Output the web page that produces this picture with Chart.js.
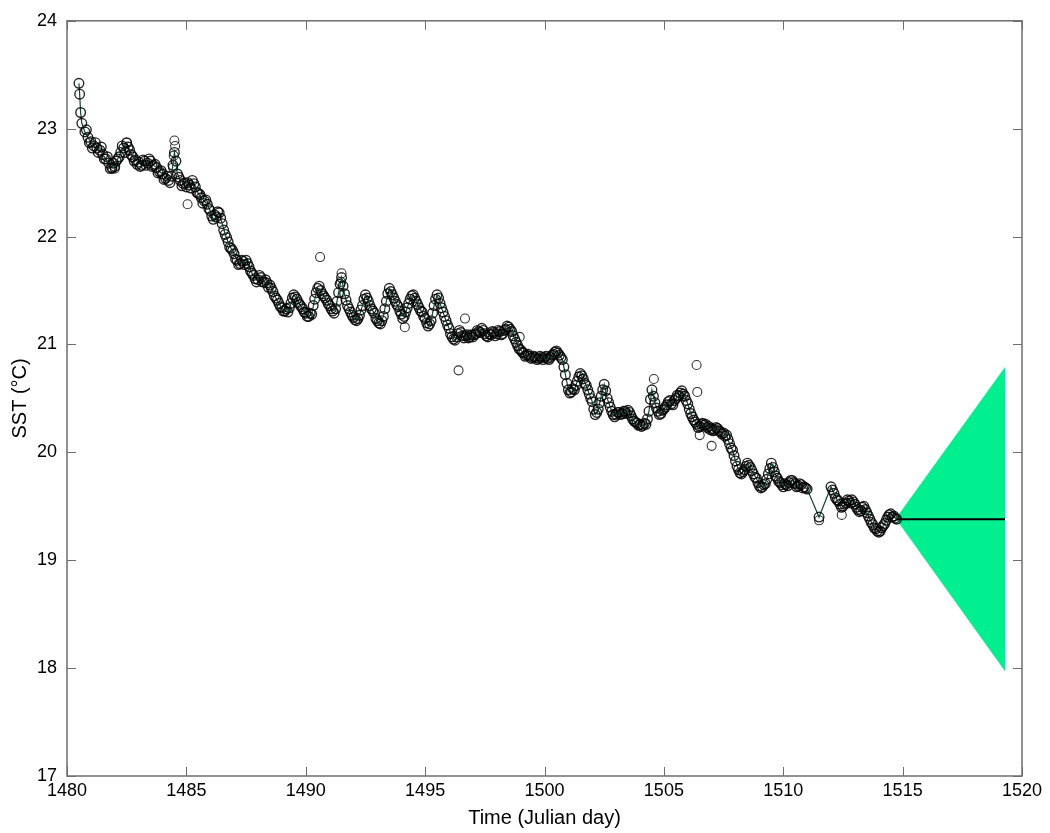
<!DOCTYPE html>
<html>
<head>
<meta charset="utf-8">
<script src="https://cdn.jsdelivr.net/npm/chart.js@4"></script>
<style>
html,body{margin:0;padding:0;background:#fff;}
#wrap{width:1050px;height:833px;position:relative;}
</style>
</head>
<body>
<div id="wrap"><canvas id="c" width="1050" height="833"></canvas></div>
<script>
// ---- Observed SST (Julian day, °C), main samples ----
const obsTime = [
1480.50,1480.53,1480.57,1480.62,1480.75,1480.875,
1481.0,1481.125,1481.25,1481.375,1481.5,1481.625,1481.75,1481.875,
1482.0,1482.125,1482.25,1482.375,1482.5,1482.625,1482.75,1482.875,
1483.0,1483.125,1483.25,1483.375,1483.5,1483.625,1483.75,1483.875,
1484.0,1484.125,1484.25,1484.375,1484.5,1484.625,1484.75,1484.875,
1485.0,1485.125,1485.25,1485.375,1485.5,1485.625,1485.75,1485.875,
1486.0,1486.125,1486.25,1486.375,1486.5,1486.625,1486.75,1486.875,
1487.0,1487.125,1487.25,1487.375,1487.5,1487.625,1487.75,1487.875,
1488.0,1488.125,1488.25,1488.375,1488.5,1488.625,1488.75,1488.875,
1489.0,1489.125,1489.25,1489.375,1489.5,1489.625,1489.75,1489.875,
1490.0,1490.125,1490.25,1490.375,1490.5,1490.625,1490.75,1490.875,
1491.0,1491.125,1491.25,1491.375,1491.5,1491.625,1491.75,1491.875,
1492.0,1492.125,1492.25,1492.375,1492.5,1492.625,1492.75,1492.875,
1493.0,1493.125,1493.25,1493.375,1493.5,1493.625,1493.75,1493.875,
1494.0,1494.125,1494.25,1494.375,1494.5,1494.625,1494.75,1494.875,
1495.0,1495.125,1495.25,1495.375,1495.5,1495.625,1495.75,1495.875,
1496.0,1496.125,1496.25,1496.375,1496.5,1496.625,1496.75,1496.875,
1497.0,1497.125,1497.25,1497.375,1497.5,1497.625,1497.75,1497.875,
1498.0,1498.125,1498.25,1498.375,1498.5,1498.625,1498.75,1498.875,
1499.0,1499.125,1499.25,1499.375,1499.5,1499.625,1499.75,1499.875,
1500.0,1500.125,1500.25,1500.375,1500.5,1500.625,1500.75,1500.875,
1501.0,1501.125,1501.25,1501.375,1501.5,1501.625,1501.75,1501.875,
1502.0,1502.125,1502.25,1502.375,1502.5,1502.625,1502.75,1502.875,
1503.0,1503.125,1503.25,1503.375,1503.5,1503.625,1503.75,1503.875,
1504.0,1504.125,1504.25,1504.375,1504.5,1504.625,1504.75,1504.875,
1505.0,1505.125,1505.25,1505.375,1505.5,1505.625,1505.75,1505.875,
1506.0,1506.125,1506.25,1506.375,1506.5,1506.625,1506.75,1506.875,
1507.0,1507.125,1507.25,1507.375,1507.5,1507.625,1507.75,1507.875,
1508.0,1508.125,1508.25,1508.375,1508.5,1508.625,1508.75,1508.875,
1509.0,1509.125,1509.25,1509.375,1509.5,1509.625,1509.75,1509.875,
1510.0,1510.125,1510.25,1510.375,1510.5,1510.625,1510.75,1510.875,
1511.0,1511.5,
1512.0,1512.125,1512.25,1512.375,1512.5,1512.625,1512.75,1512.875,
1513.0,1513.125,1513.25,1513.375,1513.5,1513.625,1513.75,1513.875,
1514.0,1514.125,1514.25,1514.375,1514.5,1514.625,1514.75
];
const obsSST = [
23.42,23.32,23.15,23.05,22.97,22.92,
22.88,22.84,22.82,22.80,22.76,22.72,22.68,22.64,
22.65,22.72,22.78,22.82,22.87,22.80,22.74,22.71,
22.69,22.66,22.70,22.68,22.70,22.66,22.64,22.60,
22.58,22.54,22.52,22.56,22.78,22.58,22.52,22.49,
22.46,22.48,22.52,22.46,22.40,22.36,22.33,22.30,
22.24,22.16,22.18,22.22,22.12,22.02,21.95,21.89,
21.84,21.78,21.75,21.77,21.78,21.72,21.66,21.61,
21.60,21.62,21.58,21.57,21.55,21.49,21.43,21.38,
21.34,21.31,21.30,21.38,21.46,21.42,21.37,21.33,
21.29,21.26,21.28,21.42,21.52,21.50,21.45,21.41,
21.36,21.31,21.33,21.48,21.62,21.47,21.36,21.30,
21.25,21.22,21.27,21.36,21.46,21.40,21.33,21.29,
21.22,21.19,21.26,21.40,21.52,21.46,21.40,21.35,
21.28,21.26,21.34,21.42,21.46,21.40,21.34,21.30,
21.24,21.17,21.22,21.36,21.46,21.38,21.30,21.22,
21.15,21.07,21.04,21.10,21.11,21.06,21.09,21.07,
21.07,21.10,21.12,21.15,21.10,21.07,21.09,21.11,
21.10,21.12,21.10,21.14,21.16,21.12,21.05,20.99,
20.95,20.92,20.90,20.89,20.88,20.88,20.87,20.88,
20.88,20.87,20.88,20.91,20.94,20.90,20.86,20.72,
20.58,20.56,20.58,20.66,20.73,20.68,20.62,20.54,
20.47,20.35,20.40,20.52,20.63,20.50,20.42,20.35,
20.35,20.37,20.36,20.38,20.39,20.34,20.29,20.27,
20.26,20.25,20.26,20.38,20.58,20.46,20.38,20.36,
20.40,20.44,20.48,20.44,20.50,20.52,20.57,20.52,
20.45,20.36,20.30,20.26,20.24,20.27,20.26,20.24,
20.22,20.21,20.22,20.19,20.18,20.16,20.08,20.02,
19.92,19.84,19.80,19.84,19.90,19.86,19.80,19.76,
19.69,19.68,19.71,19.80,19.90,19.82,19.76,19.72,
19.68,19.70,19.72,19.74,19.71,19.69,19.70,19.68,
19.66,19.40,
19.68,19.62,19.56,19.52,19.50,19.53,19.55,19.56,
19.52,19.47,19.46,19.50,19.44,19.38,19.33,19.29,
19.26,19.30,19.34,19.40,19.43,19.41,19.38
];
// ---- Observed SST, intermediate samples ----
const obsTime2 = [
1480.8125,1480.9375,
1481.0625,1481.1875,1481.3125,1481.4375,1481.5625,1481.6875,1481.8125,1481.9375,
1482.0625,1482.1875,1482.3125,1482.4375,1482.5625,1482.6875,1482.8125,1482.9375,
1483.0625,1483.1875,1483.3125,1483.4375,1483.5625,1483.6875,1483.8125,1483.9375,
1484.0625,1484.1875,1484.3125,1484.4375,1484.5625,1484.6875,1484.8125,1484.9375,
1485.0625,1485.1875,1485.3125,1485.4375,1485.5625,1485.6875,1485.8125,1485.9375,
1486.0625,1486.1875,1486.3125,1486.4375,1486.5625,1486.6875,1486.8125,1486.9375,
1487.0625,1487.1875,1487.3125,1487.4375,1487.5625,1487.6875,1487.8125,1487.9375,
1488.0625,1488.1875,1488.3125,1488.4375,1488.5625,1488.6875,1488.8125,1488.9375,
1489.0625,1489.1875,1489.3125,1489.4375,1489.5625,1489.6875,1489.8125,1489.9375,
1490.0625,1490.1875,1490.3125,1490.4375,1490.5625,1490.6875,1490.8125,1490.9375,
1491.0625,1491.1875,1491.3125,1491.4375,1491.5625,1491.6875,1491.8125,1491.9375,
1492.0625,1492.1875,1492.3125,1492.4375,1492.5625,1492.6875,1492.8125,1492.9375,
1493.0625,1493.1875,1493.3125,1493.4375,1493.5625,1493.6875,1493.8125,1493.9375,
1494.0625,1494.1875,1494.3125,1494.4375,1494.5625,1494.6875,1494.8125,1494.9375,
1495.0625,1495.1875,1495.3125,1495.4375,1495.5625,1495.6875,1495.8125,1495.9375,
1496.0625,1496.1875,1496.3125,1496.4375,1496.5625,1496.6875,1496.8125,1496.9375,
1497.0625,1497.1875,1497.3125,1497.4375,1497.5625,1497.6875,1497.8125,1497.9375,
1498.0625,1498.1875,1498.3125,1498.4375,1498.5625,1498.6875,1498.8125,1498.9375,
1499.0625,1499.1875,1499.3125,1499.4375,1499.5625,1499.6875,1499.8125,1499.9375,
1500.0625,1500.1875,1500.3125,1500.4375,1500.5625,1500.6875,1500.8125,1500.9375,
1501.0625,1501.1875,1501.3125,1501.4375,1501.5625,1501.6875,1501.8125,1501.9375,
1502.0625,1502.1875,1502.3125,1502.4375,1502.5625,1502.6875,1502.8125,1502.9375,
1503.0625,1503.1875,1503.3125,1503.4375,1503.5625,1503.6875,1503.8125,1503.9375,
1504.0625,1504.1875,1504.3125,1504.4375,1504.5625,1504.6875,1504.8125,1504.9375,
1505.0625,1505.1875,1505.3125,1505.4375,1505.5625,1505.6875,1505.8125,1505.9375,
1506.0625,1506.1875,1506.3125,1506.4375,1506.5625,1506.6875,1506.8125,1506.9375,
1507.0625,1507.1875,1507.3125,1507.4375,1507.5625,1507.6875,1507.8125,1507.9375,
1508.0625,1508.1875,1508.3125,1508.4375,1508.5625,1508.6875,1508.8125,1508.9375,
1509.0625,1509.1875,1509.3125,1509.4375,1509.5625,1509.6875,1509.8125,1509.9375,
1510.0625,1510.1875,1510.3125,1510.4375,1510.5625,1510.6875,1510.8125,1510.9375,
1512.0625,1512.1875,1512.3125,1512.4375,1512.5625,1512.6875,1512.8125,1512.9375,
1513.0625,1513.1875,1513.3125,1513.4375,1513.5625,1513.6875,1513.8125,1513.9375,
1514.0625,1514.1875,1514.3125,1514.4375,1514.5625,1514.6875
];
const obsSST2 = [
22.99,22.87,
22.82,22.87,22.78,22.83,22.72,22.74,22.63,22.68,
22.70,22.74,22.84,22.78,22.83,22.76,22.70,22.67,
22.65,22.71,22.66,22.72,22.65,22.67,22.59,22.61,
22.53,22.56,22.50,22.66,22.70,22.55,22.47,22.50,
22.50,22.45,22.49,22.41,22.39,22.31,22.34,22.26,
22.19,22.20,22.23,22.17,22.06,21.99,21.90,21.87,
21.79,21.74,21.78,21.74,21.75,21.68,21.64,21.58,
21.64,21.58,21.60,21.53,21.52,21.45,21.41,21.35,
21.31,21.33,21.34,21.43,21.44,21.39,21.35,21.30,
21.26,21.29,21.36,21.48,21.54,21.47,21.43,21.38,
21.33,21.29,21.40,21.56,21.54,21.41,21.33,21.27,
21.23,21.24,21.32,21.42,21.43,21.36,21.31,21.24,
21.20,21.22,21.33,21.47,21.49,21.43,21.37,21.31,
21.24,21.30,21.38,21.45,21.43,21.37,21.31,21.26,
21.20,21.19,21.29,21.42,21.43,21.34,21.26,21.18,
21.10,21.05,21.07,21.13,21.08,21.08,21.06,21.09,
21.09,21.13,21.11,21.13,21.08,21.10,21.12,21.08,
21.13,21.09,21.13,21.17,21.14,21.08,21.02,20.96,
20.93,20.89,20.91,20.87,20.89,20.86,20.89,20.86,
20.89,20.86,20.90,20.93,20.92,20.88,20.79,20.64,
20.55,20.59,20.62,20.70,20.71,20.64,20.58,20.50,
20.40,20.37,20.46,20.58,20.57,20.46,20.38,20.33,
20.37,20.35,20.38,20.36,20.37,20.31,20.28,20.25,
20.24,20.27,20.31,20.49,20.52,20.41,20.35,20.39,
20.42,20.47,20.45,20.48,20.53,20.55,20.54,20.48,
20.40,20.33,20.28,20.23,20.26,20.25,20.23,20.21,
20.20,20.23,20.20,20.17,20.15,20.12,20.04,19.97,
19.87,19.81,19.82,19.87,19.88,19.83,19.77,19.72,
19.67,19.70,19.75,19.85,19.86,19.78,19.73,19.70,
19.71,19.69,19.74,19.72,19.68,19.71,19.67,19.67,
19.65,19.58,19.55,19.49,19.52,19.56,19.53,19.54,
19.49,19.45,19.49,19.47,19.41,19.35,19.30,19.27,
19.27,19.32,19.37,19.42,19.40,19.39
];
// ---- Isolated observations (spikes / outliers) ----
const outTime = [1481.9,1482.0,1482.5,1484.44,1484.47,1484.50,1484.53,1485.05,1490.6,1491.47,1491.5,1494.15,1496.4,1496.67,1498.96,1504.58,1506.37,1506.4,1506.5,1507.0,1511.5,1512.45];
const outSST  = [22.63,22.63,22.87,22.64,22.75,22.89,22.84,22.30,21.81,21.58,21.66,21.16,20.76,21.24,21.07,20.68,20.81,20.56,20.16,20.06,19.37,19.42];
// ---- Forecast ----
const fcTime  = [1514.76, 1519.29];
const fcMean  = [19.38, 19.38];
const fcUpper = [19.40, 20.79];
const fcLower = [19.37, 17.97];
// ---- Axis ticks ----
const xTicks = [1480,1485,1490,1495,1500,1505,1510,1515,1520];
const yTicks = [17,18,19,20,21,22,23,24];

const pts = (xs, ys) => xs.map((x, i) => ({x: x, y: ys[i]}));
const FONT = "'Liberation Sans', Arial, sans-serif";
const CIRC = 'rgba(0,0,0,0.85)';

const boxTicks = {
  id: 'boxTicks',
  afterDraw(chart) {
    const {ctx, chartArea: a, scales: {x, y}} = chart;
    ctx.save();
    ctx.strokeStyle = '#6e6e6e';
    ctx.lineWidth = 1.5;
    ctx.strokeRect(a.left, a.top, a.right - a.left, a.bottom - a.top);
    const L = 9;
    ctx.beginPath();
    xTicks.forEach(v => {
      const px = Math.round(x.getPixelForValue(v)) + 0.5;
      ctx.moveTo(px, a.bottom); ctx.lineTo(px, a.bottom - L);
      ctx.moveTo(px, a.top); ctx.lineTo(px, a.top + L);
    });
    yTicks.forEach(v => {
      const py = Math.round(y.getPixelForValue(v)) + 0.5;
      ctx.moveTo(a.left, py); ctx.lineTo(a.left + L, py);
      ctx.moveTo(a.right, py); ctx.lineTo(a.right - L, py);
    });
    ctx.lineWidth = 1;
    ctx.stroke();
    ctx.restore();
  }
};

new Chart(document.getElementById('c'), {
  type: 'scatter',
  data: {
    datasets: [
      { label: 'obs', data: pts(obsTime, obsSST), showLine: true,
        borderColor: '#0a4a30', borderWidth: 1.2,
        pointRadius: 4.8, pointStyle: 'circle', pointBorderColor: CIRC,
        pointBackgroundColor: 'rgba(0,0,0,0)', pointBorderWidth: 1.4, fill: false },
      { label: 'obs2', data: pts(obsTime2, obsSST2), showLine: false,
        pointRadius: 4.8, pointBorderColor: CIRC,
        pointBackgroundColor: 'rgba(0,0,0,0)', pointBorderWidth: 1.4 },
      { label: 'out', data: pts(outTime, outSST), showLine: false,
        pointRadius: 4.5, pointBorderColor: 'rgba(0,0,0,0.8)',
        pointBackgroundColor: 'rgba(0,0,0,0)', pointBorderWidth: 1.1 },
      { label: 'mean', data: pts(fcTime, fcMean), showLine: true,
        borderColor: '#000', borderWidth: 2, pointRadius: 0, fill: false },
      { label: 'upper', data: pts(fcTime, fcUpper), showLine: true,
        borderColor: 'rgba(0,0,0,0)', borderWidth: 0, pointRadius: 0,
        backgroundColor: '#00f08f', fill: '+1' },
      { label: 'lower', data: pts(fcTime, fcLower), showLine: true,
        borderColor: 'rgba(0,0,0,0)', borderWidth: 0, pointRadius: 0, fill: false }
    ]
  },
  options: {
    responsive: false, animation: false, devicePixelRatio: 1,
    layout: { padding: { left: 0, right: 28, top: 20, bottom: 0 } },
    plugins: { legend: { display: false }, tooltip: { enabled: false } },
    scales: {
      x: { type: 'linear', min: 1480, max: 1520,
        afterBuildTicks: s => { s.ticks = xTicks.map(v => ({value: v})); },
        afterFit: s => { s.height = 57; },
        grid: { display: false, drawTicks: false }, border: { display: false },
        ticks: { color: '#000', padding: 4, font: { family: FONT, size: 18 },
          callback: v => String(v) },
        title: { display: true, text: 'Time (Julian day)', color: '#000',
          padding: { top: 0, bottom: 3 }, font: { family: FONT, size: 20 } } },
      y: { type: 'linear', min: 17, max: 24,
        afterBuildTicks: s => { s.ticks = yTicks.map(v => ({value: v})); },
        afterFit: s => { s.width = 67; },
        grid: { display: false, drawTicks: false }, border: { display: false },
        ticks: { color: '#000', padding: 10, font: { family: FONT, size: 18 },
          callback: v => String(v) },
        title: { display: true, text: 'SST (°C)', color: '#000',
          padding: { top: 8, bottom: 0 }, font: { family: FONT, size: 20 } } }
    }
  },
  plugins: [boxTicks]
});
</script>
</body>
</html>
